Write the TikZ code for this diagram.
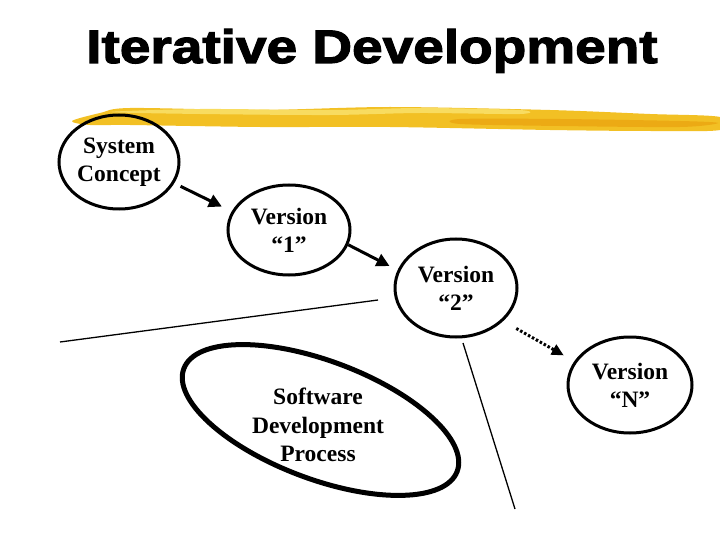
\documentclass[tikz,border=0pt]{standalone}
\usepackage{fontspec}
\setmainfont{Liberation Serif}
\newfontfamily\titlefont[FakeBold=2.5,FakeStretch=1.17]{Liberation Sans Bold}
\usetikzlibrary{shapes.geometric,arrows.meta}
\definecolor{gold}{RGB}{242,192,36}
\definecolor{goldlight}{RGB}{248,220,96}
\definecolor{golddark}{RGB}{236,170,20}
\begin{document}
\begin{tikzpicture}[x=1pt,y=-1pt,
  bubble/.style={ellipse,draw,line width=3pt,inner sep=0pt,align=center,
    font=\bfseries\fontsize{23.5}{28}\selectfont},
  bigloop/.style={ellipse,draw,line width=5pt,inner sep=0pt},
  bodytext/.style={align=center,font=\bfseries\fontsize{23.5}{28.5}\selectfont},
  arr/.style={line width=3pt,-{Triangle[length=13pt,width=13pt]}},
  dotarr/.style={line width=3pt,dash pattern=on 2.5pt off 2pt,-{Triangle[length=12pt,width=11pt]}},
  thin/.style={line width=1.3pt}]
\useasboundingbox (0,0) rectangle (720,540);
% title
\node[font=\titlefont\fontsize{47}{47}\selectfont,anchor=base,inner sep=0pt] (title) at (372,63) {Iterative Development};
% yellow brush stroke
\fill[gold] plot[smooth cycle,tension=0.5] coordinates {(72,121) (100,113) (130,108) (260,110) (390,107) (550,110) (650,114) (720,117) (720,130) (650,131) (550,130) (390,127) (260,127) (130,125) (90,125)};
\fill[goldlight] plot[smooth cycle,tension=0.5] coordinates {(110,112) (200,109) (330,110) (420,108) (520,110) (520,114) (420,113) (330,115) (200,114)};
\fill[golddark] plot[smooth cycle,tension=0.5] coordinates {(460,119) (560,119) (680,121) (718,123) (680,127) (560,126) (460,124)};
% bubbles
\node[bubble,minimum width=120pt,minimum height=94pt] (sc) at (119,162) {System\\Concept};
\node[bubble,minimum width=122pt,minimum height=90pt] (v1) at (289,230) {Version\\``1''};
\node[bubble,minimum width=122pt,minimum height=98pt] (v2) at (456,288) {Version\\``2''};
\node[bubble,minimum width=124pt,minimum height=96pt] (vN) at (630,385) {Version\\``N''};
% software development process
\node[bigloop,minimum width=292pt,minimum height=118pt,rotate=-20.6] (sdp) at (320.5,420) {};
\node[bodytext] (sdptext) at (318,425) {Software\\Development\\Process};
% arrows
\draw[arr,shorten <=7pt,shorten >=11pt] (sc.-21) -- (v1.162);
\draw[arr,shorten >=9pt] (v1.-14) -- (v2.163);
\draw[dotarr,shorten <=15pt,shorten >=12pt] (v2.-35) -- (vN.157);
% thin lines
\coordinate (l1a) at (60,342);
\coordinate (l1b) at (378,300);
\coordinate (l2a) at (463,343);
\coordinate (l2b) at (515,509);
\draw[thin] (l1a) -- (l1b);
\draw[thin] (l2a) -- (l2b);
\end{tikzpicture}
\end{document}
